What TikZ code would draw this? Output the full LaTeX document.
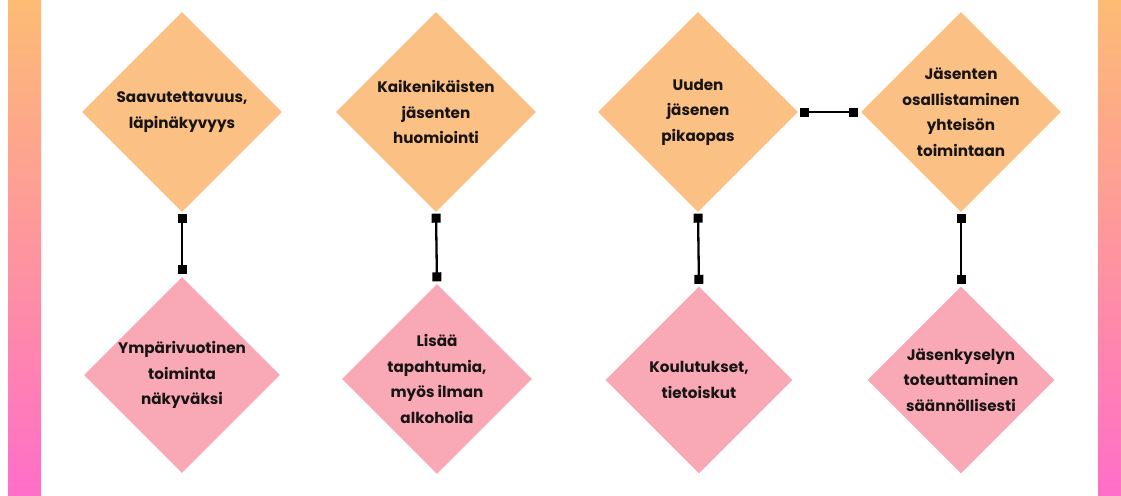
\documentclass[tikz,border=0pt]{standalone}
\usepackage{fontspec}
\setmainfont{Poppins}
\usepackage{tikz}
\usetikzlibrary{shapes.geometric,arrows.meta}

\begin{document}
\begin{tikzpicture}[x=1pt,y=-1pt,
        topbox/.style={diamond, fill=boxorange, inner sep=0pt, minimum width=200pt, minimum height=200pt,
            align=center, text=textdark, font=\fontsize{15.2}{25.5}\selectfont\bfseries},
        botbox/.style={topbox, fill=boxpink, minimum width=190pt, minimum height=190pt},
        link/.style={black, line width=2.3pt, {Square[length=9pt,width=9pt]}-{Square[length=9pt,width=9pt]},
            shorten <=1.5pt, shorten >=2.5pt}]
        % Define colors
        \definecolor{boxorange}{RGB}{251,192,131} % orange diamonds
        \definecolor{boxpink}{RGB}{249,169,182} % pink diamonds
        \definecolor{barorange}{RGB}{253,188,116} % bar top
        \definecolor{barpink}{RGB}{255,110,200} % bar bottom
        \definecolor{textdark}{RGB}{24,20,20}

        % Fix the page size
        \useasboundingbox (0,0) rectangle (1121,495);

        % Side bars
        \shade[top color=barorange, bottom color=barpink] (8,0) rectangle (41,495); % Left
        \shade[top color=barorange, bottom color=barpink] (1098,0) rectangle (1121,495); % Right

        % Top row
        \node[topbox] (t1) at (182,112) {Saavutettavuus,\\läpinäkyvyys};
        \node[topbox] (t2) at (436,112) {Kaikenikäisten\\jäsenten\\huomiointi};
        \node[topbox] (t3) at (698,112) {Uuden\\jäsenen\\pikaopas};
        \node[topbox, inner sep=-6pt] (t4) at (961,112) {Jäsenten\\osallistaminen\\yhteisön\\toimintaan};

        % Bottom row
        \node[botbox, minimum width=196pt, minimum height=196pt] (b1) at (182,375) {Ympärivuotinen\\toiminta\\näkyväksi};
        \node[botbox] (b2) at (437,379) {Lisää\\tapahtumia,\\myös ilman\\alkoholia};
        \node[botbox, minimum width=187pt, minimum height=187pt] (b3) at (699,380) {Koulutukset,\\tietoiskut};
        \node[botbox, minimum width=187pt, minimum height=187pt] (b4) at (961,380) {Jäsenkyselyn\\toteuttaminen\\säännöllisesti};

        % Connectors
        \draw[link] (t1.south) -- (b1.north);
        \draw[link] (t2.south) -- (b2.north);
        \draw[link] (t3.south) -- (b3.north);
        \draw[link] (t4.south) -- (b4.north);
        \draw[link] (t3.east) -- (t4.west);
\end{tikzpicture}
\end{document}
